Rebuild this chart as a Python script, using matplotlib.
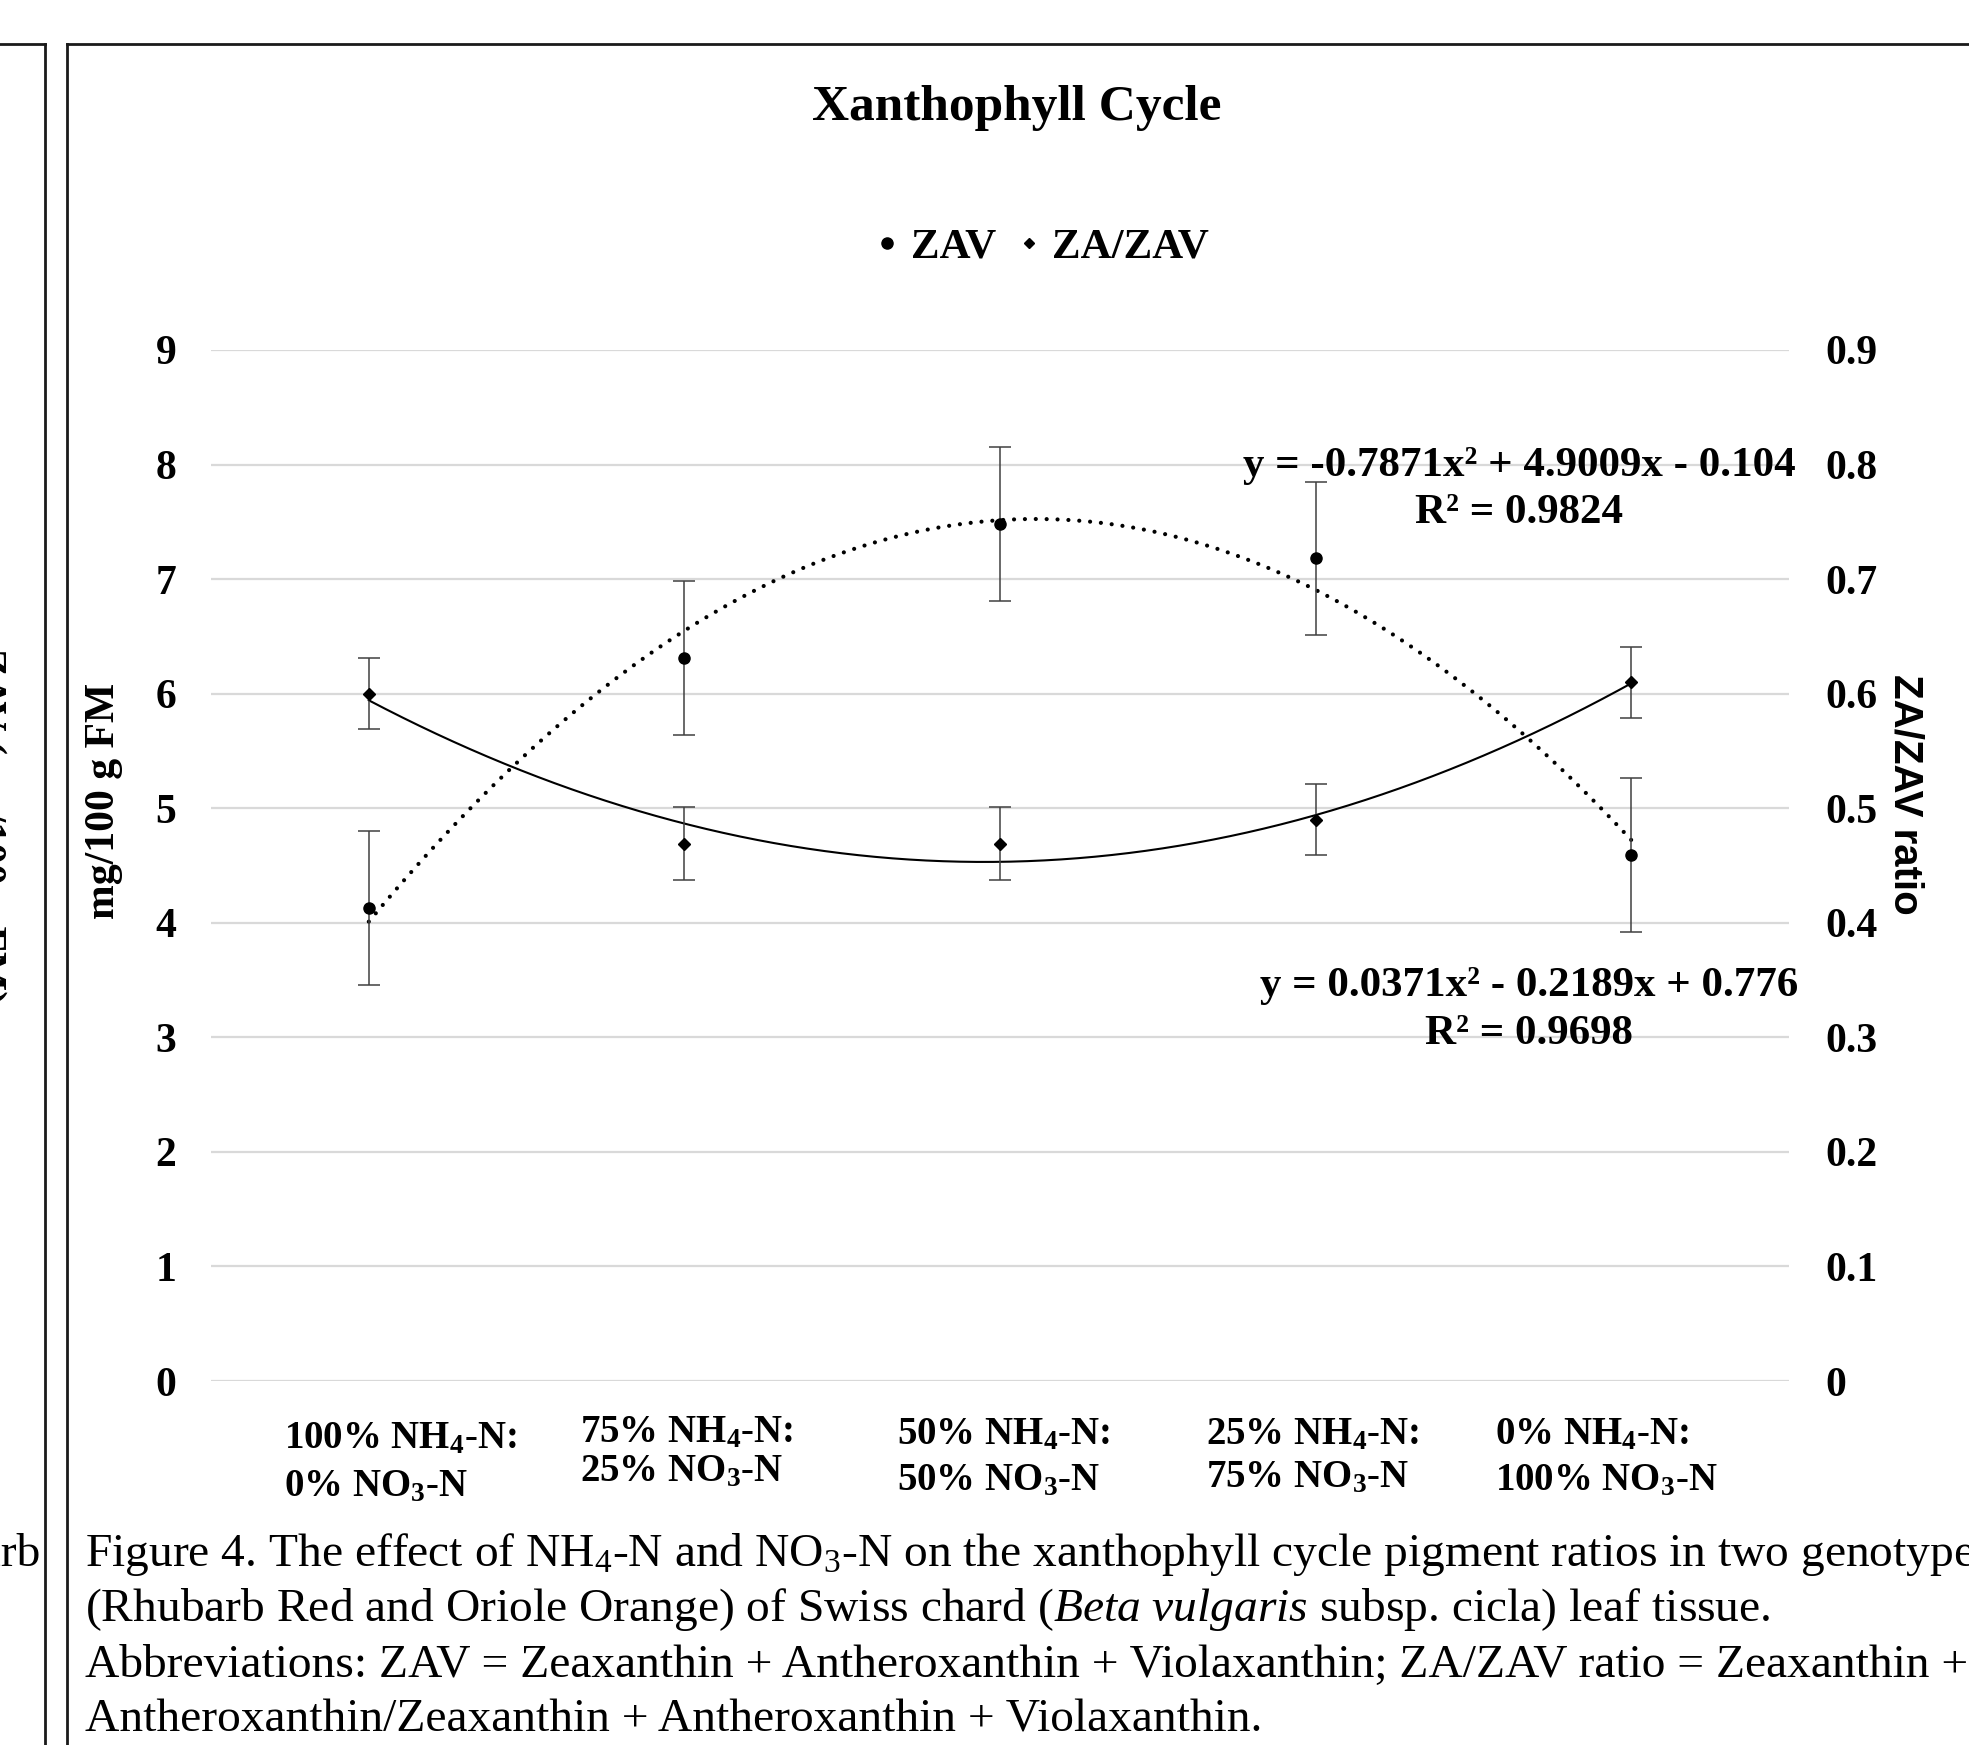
import matplotlib
matplotlib.use("Agg")
import matplotlib.pyplot as plt
from matplotlib.lines import Line2D
import numpy as np

plt.rcParams['font.family'] = ['Liberation Serif', 'DejaVu Serif']
plt.rcParams['mathtext.fontset'] = 'custom'
plt.rcParams['mathtext.rm'] = 'Liberation Serif'
plt.rcParams['mathtext.it'] = 'Liberation Serif:italic'
plt.rcParams['mathtext.bf'] = 'Liberation Serif:bold'

# data
categories = ["100% NH$_\\mathbf{4}$-N:\n0% NO$_\\mathbf{3}$-N",
              "75% NH$_\\mathbf{4}$-N:\n25% NO$_\\mathbf{3}$-N",
              "50% NH$_\\mathbf{4}$-N:\n50% NO$_\\mathbf{3}$-N",
              "25% NH$_\\mathbf{4}$-N:\n75% NO$_\\mathbf{3}$-N",
              "0% NH$_\\mathbf{4}$-N:\n100% NO$_\\mathbf{3}$-N"]
zav = [4.13, 6.31, 7.48, 7.18, 4.59]
zav_err = [0.67, 0.67, 0.67, 0.67, 0.67]
ratio = [0.600, 0.469, 0.469, 0.490, 0.610]
ratio_err = [0.031, 0.032, 0.032, 0.031, 0.031]
# polynomial trendlines as printed on the chart
zav_fit = [-0.7871, 4.9009, -0.104]
zav_r2 = 0.9824
ratio_fit = [0.0371, -0.2189, 0.776]
ratio_r2 = 0.9698
left_ticks = [0, 1, 2, 3, 4, 5, 6, 7, 8, 9]
right_ticks = ['0', '0.1', '0.2', '0.3', '0.4', '0.5', '0.6', '0.7', '0.8', '0.9']

W, H = 1969, 1745
fig = plt.figure(figsize=(W / 100, H / 100), dpi=100)


def fx(p):
    return p / W


def fy(p):
    return 1 - p / H


ax = fig.add_axes([fx(211), fy(1381), 1578 / W, 1031 / H])
ax2 = ax.twinx()
x = np.arange(1, len(zav) + 1)

ax.set_xlim(0.5, 5.5)
ax.set_ylim(0, 9)
ax2.set_ylim(0, 0.9)
ax.set_xticks([])
ax.set_yticks(left_ticks)
ax.set_yticklabels([str(t) for t in left_ticks], fontweight='bold')
ax2.set_yticks([float(t) for t in right_ticks])
ax2.set_yticklabels(right_ticks, fontweight='bold')
ax.tick_params(axis='y', length=0, pad=25, labelsize=30)
ax2.tick_params(axis='y', length=0, pad=26, labelsize=30)
ax.grid(axis='y', color='#d9d9d9', lw=1.6)
ax.set_axisbelow(True)
for a in (ax, ax2):
    for s in a.spines.values():
        s.set_visible(False)

# trendlines
xs = np.linspace(1, 5, 300)
ax.plot(xs, np.polyval(zav_fit, xs), color='black', lw=3,
        ls=(0, (0.01, 2.6)), dash_capstyle='round', zorder=3)
ax2.plot(xs, np.polyval(ratio_fit, xs), color='black', lw=1.5, zorder=3)

# points with error bars
ax.errorbar(x, zav, yerr=zav_err, fmt='o', color='black', ms=8,
            ecolor='#404040', elinewidth=1.1, capsize=8, capthick=1.1, zorder=4)
ax2.errorbar(x, ratio, yerr=ratio_err, fmt='D', color='black', ms=6.5,
             ecolor='#404040', elinewidth=1.1, capsize=8, capthick=1.1, zorder=4)

# category labels, each line left aligned like the original
lab_dx = [-0.27, -0.33, -0.327, -0.346, -0.432]
lab_base = [(1448, 1496), (1442, 1481), (1444, 1490), (1444, 1487), (1444, 1490)]
for i, lab in enumerate(categories):
    for line, yb in zip(lab.split('\n'), lab_base[i]):
        ax.text(x[i] + lab_dx[i], (1381 - yb) / 1031, line,
                transform=ax.get_xaxis_transform(), ha='left', va='baseline',
                fontsize=28, fontweight='bold')

# axis labels
ax.set_ylabel('mg/100 g FM', fontsize=30, fontweight='bold')
ax.yaxis.set_label_coords(-0.0558, 0.563)
ax2.set_ylabel('ZA/ZAV ratio', fontsize=29, fontweight='bold', rotation=270,
               family=['Liberation Sans Narrow', 'Liberation Sans'])
ax2.yaxis.set_label_coords(1.0856, 0.569)


def eq(c, r2):
    s = 'y = %gx² ' % c[0]
    s += ('+ %gx ' % c[1]) if c[1] >= 0 else ('- %gx ' % -c[1])
    s += ('+ %g' % c[2]) if c[2] >= 0 else ('- %g' % -c[2])
    return s + '\nR² = %g' % r2


ax.text(4.646, 7.785, eq(zav_fit, zav_r2), ha='center', va='center',
        multialignment='center', fontsize=31, fontweight='bold', linespacing=1.3)
ax.text(4.675, 3.24, eq(ratio_fit, ratio_r2), ha='center', va='center',
        multialignment='center', fontsize=31, fontweight='bold', linespacing=1.33)

# title and legend
fig.text(fx(1017), fy(120), 'Xanthophyll Cycle', ha='center', va='baseline',
         fontsize=37, fontweight='bold')
handles = [Line2D([], [], marker='o', ls='none', color='black', ms=8),
           Line2D([], [], marker='D', ls='none', color='black', ms=5)]
fig.legend(handles, ['ZAV', 'ZA/ZAV'], loc='center',
           bbox_to_anchor=(fx(1043), fy(247)), ncol=2, frameon=False,
           prop=dict(weight='bold', size=31), handlelength=0.5,
           handletextpad=0.3, columnspacing=0.5)

# caption
cap = ["Figure 4. The effect of NH$_4$-N and NO$_3$-N on the xanthophyll cycle pigment ratios in two genotypes",
       "(Rhubarb Red and Oriole Orange) of Swiss chard ($\\mathit{Beta\\ vulgaris}$ subsp. cicla) leaf tissue.",
       "Abbreviations: ZAV = Zeaxanthin + Antheroxanthin + Violaxanthin; ZA/ZAV ratio = Zeaxanthin +",
       "Antheroxanthin/Zeaxanthin + Antheroxanthin + Violaxanthin."]
for line, base in zip(cap, [1566, 1621, 1677, 1732]):
    fig.text(fx(85), fy(base), line, ha='left', va='baseline', fontsize=34.2)

# frames of the page (neighbouring panel on the left is cut off)
kw = dict(color='#1a1a1a', lw=2, transform=fig.transFigure)
fig.add_artist(Line2D([fx(67), fx(67)], [fy(44), 0], **kw))
fig.add_artist(Line2D([fx(67), 1], [fy(44), fy(44)], **kw))
fig.add_artist(Line2D([fx(45), fx(45)], [fy(44), 0], **kw))
fig.add_artist(Line2D([0, fx(45)], [fy(44), fy(44)], **kw))
fig.text(fx(41), fy(1566), 'Rhubarb', ha='right', va='baseline', fontsize=34.2)
fig.text(fx(-13), fy(826), 'ZAV (mg/100 g FM)', ha='center', va='center',
         rotation=270, fontsize=30, fontweight='bold')

fig.savefig('out.png', dpi=100)
